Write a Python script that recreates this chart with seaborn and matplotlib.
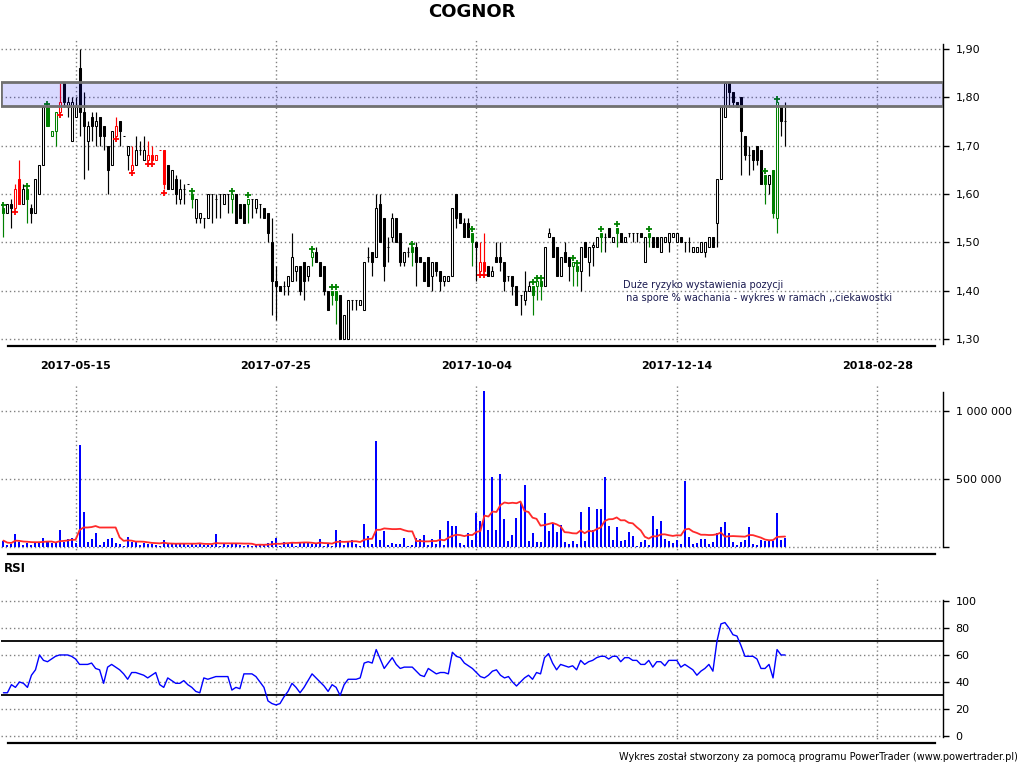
import numpy as np
import pandas as pd
import seaborn as sns
import matplotlib.pyplot as plt
from matplotlib.ticker import FuncFormatter

sns.set_style("white")
plt.rcParams['font.family'] = ['DejaVu Sans']
plt.rcParams['text.color'] = 'black'
plt.rcParams['xtick.color'] = 'black'
plt.rcParams['ytick.color'] = 'black'

# daily candles (trading days, index 0 = first session on chart)
opens = [1.57, 1.56, 1.58, 1.57, 1.63, 1.58, 1.61, 1.57, 1.56, 1.60,
         1.66, 1.78, 1.72, 1.73, 1.77, 1.83, 1.78, 1.71, 1.76, 1.86,
         1.77, 1.71, 1.76, 1.74, 1.76, 1.74, 1.70, 1.66, 1.72, 1.75,
         1.72, 1.68, 1.65, 1.66, 1.69, 1.67, 1.67, 1.68, 1.67, 1.69,
         1.69, 1.66, 1.61, 1.63, 1.59, 1.61, 1.62, 1.60, 1.55, 1.55,
         1.55, 1.55, 1.60, 1.59, 1.60, 1.58, 1.60, 1.59, 1.60, 1.58,
         1.58, 1.58, 1.59, 1.57, 1.58, 1.57, 1.56, 1.50, 1.42, 1.41,
         1.41, 1.41, 1.42, 1.44, 1.45, 1.46, 1.43, 1.47, 1.48, 1.46,
         1.45, 1.40, 1.40, 1.40, 1.39, 1.30, 1.30, 1.38, 1.38, 1.37,
         1.36, 1.47, 1.48, 1.47, 1.58, 1.55, 1.49, 1.51, 1.55, 1.52,
         1.46, 1.48, 1.49, 1.49, 1.47, 1.46, 1.47, 1.43, 1.46, 1.44,
         1.42, 1.42, 1.43, 1.60, 1.56, 1.54, 1.54, 1.52, 1.50, 1.44,
         1.46, 1.45, 1.43, 1.47, 1.47, 1.46, 1.43, 1.43, 1.41, 1.39,
         1.38, 1.40, 1.41, 1.41, 1.42, 1.41, 1.51, 1.51, 1.49, 1.43,
         1.48, 1.47, 1.45, 1.45, 1.44, 1.50, 1.46, 1.49, 1.49, 1.52,
         1.51, 1.53, 1.50, 1.53, 1.52, 1.50, 1.52, 1.52, 1.52, 1.52,
         1.46, 1.52, 1.51, 1.51, 1.48, 1.50, 1.50, 1.51, 1.50, 1.51,
         1.50, 1.50, 1.48, 1.48, 1.48, 1.48, 1.49, 1.51, 1.54, 1.63,
         1.76, 1.83, 1.81, 1.79, 1.80, 1.72, 1.68, 1.69, 1.70, 1.69,
         1.64, 1.62, 1.65, 1.55, 1.78, 1.75]
highs = [1.57, 1.58, 1.59, 1.62, 1.67, 1.62, 1.61, 1.58, 1.63, 1.66,
         1.78, 1.78, 1.73, 1.77, 1.83, 1.83, 1.80, 1.80, 1.80, 1.90,
         1.81, 1.75, 1.77, 1.77, 1.76, 1.74, 1.70, 1.73, 1.76, 1.75,
         1.72, 1.70, 1.70, 1.72, 1.71, 1.72, 1.71, 1.70, 1.68, 1.69,
         1.69, 1.66, 1.65, 1.64, 1.63, 1.62, 1.62, 1.60, 1.59, 1.56,
         1.55, 1.60, 1.60, 1.60, 1.60, 1.60, 1.60, 1.60, 1.60, 1.58,
         1.58, 1.59, 1.59, 1.59, 1.58, 1.57, 1.56, 1.55, 1.45, 1.41,
         1.42, 1.43, 1.52, 1.45, 1.45, 1.46, 1.45, 1.48, 1.49, 1.46,
         1.45, 1.40, 1.40, 1.40, 1.39, 1.35, 1.38, 1.38, 1.38, 1.38,
         1.46, 1.49, 1.48, 1.60, 1.60, 1.55, 1.51, 1.56, 1.55, 1.52,
         1.48, 1.49, 1.49, 1.50, 1.47, 1.46, 1.47, 1.46, 1.46, 1.44,
         1.43, 1.43, 1.57, 1.60, 1.56, 1.55, 1.55, 1.52, 1.50, 1.50,
         1.52, 1.45, 1.45, 1.50, 1.50, 1.46, 1.43, 1.43, 1.41, 1.39,
         1.44, 1.42, 1.41, 1.42, 1.42, 1.49, 1.53, 1.51, 1.49, 1.47,
         1.50, 1.47, 1.46, 1.45, 1.49, 1.50, 1.49, 1.50, 1.51, 1.52,
         1.52, 1.53, 1.51, 1.53, 1.52, 1.51, 1.52, 1.52, 1.52, 1.52,
         1.51, 1.52, 1.51, 1.51, 1.51, 1.51, 1.52, 1.52, 1.52, 1.51,
         1.50, 1.51, 1.49, 1.49, 1.50, 1.50, 1.51, 1.51, 1.63, 1.78,
         1.83, 1.83, 1.81, 1.79, 1.80, 1.72, 1.70, 1.69, 1.70, 1.69,
         1.64, 1.64, 1.65, 1.79, 1.78, 1.79]
lows = [1.51, 1.56, 1.53, 1.57, 1.58, 1.58, 1.54, 1.54, 1.56, 1.60,
        1.66, 1.74, 1.72, 1.70, 1.77, 1.78, 1.76, 1.71, 1.76, 1.72,
        1.63, 1.65, 1.71, 1.70, 1.70, 1.69, 1.60, 1.66, 1.72, 1.70,
        1.72, 1.65, 1.65, 1.66, 1.68, 1.67, 1.67, 1.67, 1.67, 1.69,
        1.61, 1.61, 1.61, 1.58, 1.58, 1.58, 1.62, 1.57, 1.54, 1.54,
        1.53, 1.55, 1.54, 1.55, 1.55, 1.58, 1.56, 1.56, 1.54, 1.55,
        1.54, 1.54, 1.55, 1.56, 1.55, 1.55, 1.50, 1.35, 1.34, 1.40,
        1.39, 1.39, 1.42, 1.42, 1.39, 1.38, 1.42, 1.45, 1.46, 1.43,
        1.39, 1.36, 1.37, 1.33, 1.30, 1.30, 1.30, 1.36, 1.36, 1.37,
        1.36, 1.46, 1.43, 1.47, 1.50, 1.42, 1.46, 1.50, 1.50, 1.45,
        1.45, 1.47, 1.45, 1.41, 1.46, 1.42, 1.41, 1.40, 1.43, 1.40,
        1.41, 1.42, 1.43, 1.53, 1.54, 1.51, 1.51, 1.45, 1.42, 1.44,
        1.44, 1.43, 1.43, 1.46, 1.44, 1.40, 1.42, 1.39, 1.37, 1.35,
        1.37, 1.40, 1.35, 1.38, 1.38, 1.41, 1.51, 1.47, 1.43, 1.43,
        1.46, 1.42, 1.41, 1.41, 1.40, 1.47, 1.43, 1.45, 1.49, 1.48,
        1.48, 1.51, 1.50, 1.49, 1.50, 1.50, 1.51, 1.50, 1.50, 1.51,
        1.46, 1.49, 1.49, 1.49, 1.48, 1.50, 1.48, 1.51, 1.50, 1.50,
        1.48, 1.48, 1.48, 1.48, 1.48, 1.47, 1.49, 1.49, 1.49, 1.63,
        1.76, 1.78, 1.78, 1.78, 1.64, 1.67, 1.64, 1.65, 1.66, 1.62,
        1.58, 1.60, 1.55, 1.52, 1.72, 1.70]
closes = [1.56, 1.58, 1.57, 1.61, 1.58, 1.61, 1.59, 1.56, 1.63, 1.66,
          1.78, 1.74, 1.73, 1.77, 1.79, 1.79, 1.79, 1.79, 1.78, 1.77,
          1.74, 1.74, 1.74, 1.75, 1.72, 1.72, 1.65, 1.73, 1.74, 1.73,
          1.72, 1.70, 1.66, 1.69, 1.69, 1.69, 1.68, 1.67, 1.68, 1.69,
          1.62, 1.61, 1.65, 1.60, 1.61, 1.61, 1.62, 1.59, 1.59, 1.56,
          1.55, 1.60, 1.60, 1.59, 1.60, 1.60, 1.60, 1.60, 1.54, 1.55,
          1.54, 1.59, 1.59, 1.59, 1.58, 1.55, 1.52, 1.42, 1.41, 1.40,
          1.41, 1.43, 1.47, 1.45, 1.40, 1.42, 1.45, 1.48, 1.46, 1.43,
          1.40, 1.36, 1.39, 1.38, 1.30, 1.35, 1.38, 1.38, 1.38, 1.38,
          1.46, 1.47, 1.46, 1.57, 1.50, 1.45, 1.49, 1.55, 1.50, 1.46,
          1.48, 1.48, 1.48, 1.46, 1.46, 1.42, 1.41, 1.46, 1.44, 1.42,
          1.43, 1.43, 1.57, 1.55, 1.54, 1.51, 1.51, 1.50, 1.49, 1.46,
          1.44, 1.43, 1.44, 1.46, 1.46, 1.42, 1.43, 1.41, 1.37, 1.39,
          1.40, 1.41, 1.39, 1.42, 1.41, 1.49, 1.52, 1.47, 1.43, 1.47,
          1.46, 1.45, 1.46, 1.44, 1.49, 1.47, 1.49, 1.495, 1.51, 1.51,
          1.51, 1.51, 1.51, 1.52, 1.50, 1.51, 1.52, 1.52, 1.52, 1.51,
          1.51, 1.51, 1.49, 1.49, 1.51, 1.51, 1.52, 1.52, 1.52, 1.50,
          1.50, 1.50, 1.49, 1.49, 1.50, 1.50, 1.51, 1.49, 1.63, 1.78,
          1.83, 1.81, 1.79, 1.78, 1.73, 1.68, 1.68, 1.67, 1.67, 1.62,
          1.62, 1.64, 1.56, 1.79, 1.75, 1.75]

# volume in thousands of shares
volume_k = [47, 17, 25, 98, 37, 17, 29, 17, 29, 39,
            69, 39, 29, 29, 127, 39, 61, 69, 29, 752,
            260, 39, 61, 105, 17, 39, 61, 69, 32, 25,
            5, 76, 37, 37, 17, 29, 22, 22, 17, 5,
            54, 25, 25, 25, 25, 25, 17, 25, 17, 32,
            17, 17, 17, 98, 5, 25, 17, 25, 25, 17,
            5, 17, 5, 17, 17, 17, 32, 47, 69, 5,
            39, 32, 39, 5, 32, 32, 32, 25, 25, 61,
            5, 25, 5, 127, 54, 17, 47, 54, 25, 5,
            172, 83, 25, 782, 54, 120, 17, 32, 25, 25,
            69, 5, 17, 69, 61, 91, 17, 61, 25, 127,
            17, 194, 152, 157, 32, 17, 105, 54, 252, 194,
            1150, 127, 517, 127, 539, 208, 47, 91, 216, 321,
            458, 47, 105, 39, 39, 252, 120, 172, 113, 164,
            39, 25, 47, 25, 260, 47, 297, 127, 282, 282,
            517, 157, 54, 150, 47, 54, 113, 83, 5, 39,
            54, 17, 230, 135, 194, 61, 47, 32, 54, 25,
            488, 76, 25, 32, 61, 61, 25, 39, 105, 150,
            186, 105, 39, 17, 39, 54, 150, 25, 17, 54,
            47, 54, 47, 252, 54, 69]

rsi = [32, 32, 38, 36, 40, 39, 36, 45, 49, 60, 56, 55, 57, 59, 60, 60, 60, 59, 57, 53,
       53, 53, 54, 50, 49, 39, 51, 53, 51, 49, 46, 42, 47, 47, 46, 45, 43, 45, 47, 38,
       36, 43, 41, 39, 39, 41, 38, 36, 33, 32, 43, 42, 43, 44, 44, 44, 44, 34, 36, 35,
       46, 46, 46, 44, 40, 36, 26, 24, 23, 24, 29, 33, 39, 36, 32, 36, 41, 46, 43, 40,
       37, 33, 38, 36, 30, 38, 42, 42, 42, 43, 54, 55, 54, 64, 57, 50, 54, 58, 53, 50,
       51, 51, 51, 48, 45, 44, 50, 48, 46, 47, 47, 46, 62, 59, 58, 54, 52, 50, 47, 44,
       43, 45, 48, 49, 45, 43, 44, 40, 37, 40, 43, 45, 42, 47, 46, 58, 61, 54, 49, 53,
       52, 51, 52, 49, 56, 53, 55, 56, 58, 59, 59, 57, 59, 59, 55, 58, 58, 56, 56, 53,
       53, 56, 51, 55, 55, 52, 56, 56, 56, 51, 53, 51, 49, 45, 48, 50, 53, 48, 70, 83,
       84, 80, 75, 74, 67, 59, 59, 59, 57, 50, 50, 53, 43, 64, 60, 60]

# signal colouring of candles and "+" signals
green_days = [0, 6, 11, 12, 13, 47, 57, 61, 77, 82, 83, 102, 117, 132, 133, 134,
              142, 143, 149, 153, 161, 190, 192, 193]
red_days = [3, 4, 14, 28, 32, 36, 37, 38, 39, 40, 119, 120]
green_plus = [0, 6, 11, 47, 57, 61, 77, 82, 83, 102, 117, 132, 133, 134, 142, 143,
              149, 153, 161, 190, 193]
red_plus = [3, 14, 28, 32, 36, 37, 40, 119, 120]

grid_days = [18, 68, 118, 168, 218]
grid_dates = ['2017-05-15', '2017-07-25', '2017-10-04', '2017-12-14', '2018-02-28']
band = (1.783, 1.832)
note = "Duże ryzyko wystawienia pozycji\n na spore % wachania - wykres w ramach ,,ciekawostki"

df = pd.DataFrame({'open': opens, 'high': highs, 'low': lows, 'close': closes,
                   'volume': np.array(volume_k) * 1000, 'rsi': rsi})
df['day'] = np.arange(len(df))
df['vol_ma'] = df['volume'].rolling(10, min_periods=1).mean()

W, H = 1024, 768
fig = plt.figure(figsize=(W / 100, H / 100), dpi=100)


def box(x0, y0, x1, y1):
    return [x0 / W, 1 - y1 / H, (x1 - x0) / W, (y1 - y0) / H]


ax_p = fig.add_axes(box(1, 40, 943, 346))
ax_v = fig.add_axes(box(1, 385, 943, 554), sharex=ax_p)
ax_r = fig.add_axes(box(1, 578, 943, 743), sharex=ax_p)

grid_kw = dict(color='#808080', linestyle=(0, (1, 2)), linewidth=1)

# ---- price panel
col = np.where(df['day'].isin(green_days), '#008000',
               np.where(df['day'].isin(red_days), '#ff0000', 'black'))
up = df['close'] >= df['open']
face = np.where(up, 'white', col)
ax_p.vlines(df['day'], df['low'], df['high'], colors=col, lw=0.85, zorder=3)
ax_p.bar(df['day'], (df['close'] - df['open']).abs(),
         bottom=np.minimum(df['open'], df['close']), width=0.5,
         color=face, edgecolor=col, linewidth=0.75, zorder=4)
gp = df[df['day'].isin(green_plus)]
rp = df[df['day'].isin(red_plus)]
ax_p.scatter(gp['day'], gp['high'] + 0.007, marker='+', s=24, color='#008000', linewidths=1.3, zorder=5)
ax_p.scatter(rp['day'], rp['low'] - 0.007, marker='+', s=24, color='#ff0000', linewidths=1.3, zorder=5)
ax_p.axhspan(band[0], band[1], facecolor=(0, 0, 1, 0.15), edgecolor='#707070', lw=2, zorder=6)
ax_p.text(154.5, 1.422, note, fontsize=7, color='#1a1a50', va='top', ha='left', linespacing=1.35)

ax_p.set_xlim(-0.6, 234.4)
ax_p.set_ylim(1.2855, 1.9186)
ax_p.set_yticks(np.round(np.arange(1.30, 1.91, 0.1), 2))
ax_p.yaxis.set_major_formatter(FuncFormatter(lambda v, p: f"{v:.2f}".replace('.', ',')))
ax_p.set_xticks(grid_days)
ax_p.set_xticklabels(grid_dates)

# ---- volume panel
ax_v.bar(df['day'], df['volume'], width=0.5, color='#0000ff', edgecolor='none', linewidth=0, zorder=3)
sns.lineplot(x='day', y='vol_ma', data=df, ax=ax_v, color='#ff2a2a', lw=1.3, zorder=4)
ax_v.set_ylim(-51500, 1191000)
ax_v.set_yticks([0, 500000, 1000000])
ax_v.yaxis.set_major_formatter(FuncFormatter(lambda v, p: '' if v == 0 else f"{int(v):,}".replace(',', ' ')))

# ---- RSI panel
sns.lineplot(x='day', y='rsi', data=df, ax=ax_r, color='#0000ff', lw=1, zorder=4)
ax_r.axhline(70, color='black', lw=1.3, zorder=3)
ax_r.axhline(30, color='black', lw=1.3, zorder=3)
ax_r.set_ylim(-5.2, 117)
ax_r.set_yticks(range(0, 101, 20))

bounds = {ax_p: (1.29, 1.91), ax_v: (0, 1140000), ax_r: (-1, 101)}
for ax in (ax_p, ax_v, ax_r):
    ax.set_facecolor('white')
    ax.set_xlabel('')
    ax.set_ylabel('')
    ax.grid(True, **grid_kw)
    ax.set_axisbelow(True)
    for s in ('top', 'left'):
        ax.spines[s].set_visible(False)
    ax.spines['right'].set_color('black')
    ax.spines['right'].set_linewidth(1)
    ax.spines['right'].set_bounds(*bounds[ax])
    ax.spines['bottom'].set_color('black')
    ax.spines['bottom'].set_linewidth(1.6)
    ax.spines['bottom'].set_bounds(1.15, 232.4)
    ax.yaxis.tick_right()
    ax.tick_params(axis='y', direction='out', length=4, width=1, labelsize=8, pad=5, colors='black')
    ax.tick_params(axis='x', direction='out', length=3, width=1, labelsize=8, pad=8, colors='black')

for ax in (ax_v, ax_r):
    ax.tick_params(axis='x', length=0, labelbottom=False)
for lab in ax_p.get_xticklabels():
    lab.set_fontweight('bold')

fig.text(472 / W, 1 - 12 / H, 'COGNOR', ha='center', va='center', fontsize=13, fontweight='bold')
fig.text(4 / W, 1 - 568 / H, 'RSI', ha='left', va='center', fontsize=8.5, fontweight='bold')
fig.text(1018 / W, 1 - 757 / H,
         'Wykres został stworzony za pomocą programu PowerTrader (www.powertrader.pl)',
         ha='right', va='center', fontsize=7)

fig.savefig('out.png', dpi=100)
